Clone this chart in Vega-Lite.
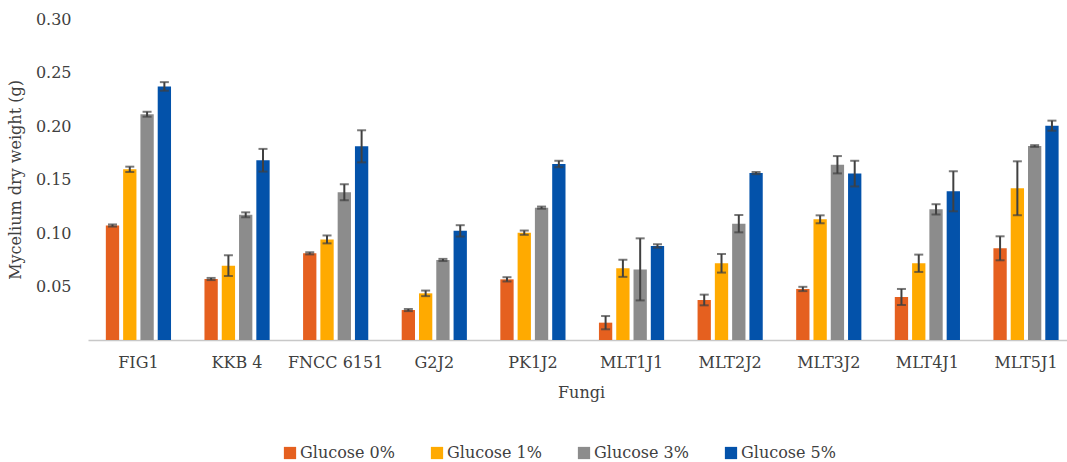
{
  "$schema": "https://vega.github.io/schema/vega-lite/v6.json",
  "width": 979,
  "height": 321,
  "autosize": {"type": "none"},
  "padding": {"left": 88, "top": 19, "right": 0, "bottom": 122},
  "background": "white",
  "config": {
    "view": {"stroke": null},
    "font": "DejaVu Serif",
    "axis": {"labelFont": "DejaVu Serif", "titleFont": "DejaVu Serif", "labelColor": "#404040", "titleColor": "#404040", "titleFontWeight": "normal", "labelFontSize": 16, "titleFontSize": 16},
    "legend": {"labelFont": "DejaVu Serif", "labelFontSize": 16, "labelColor": "#404040"}
  },
  "data": {
    "values": [
      {"f": "FIG1", "g": "Glucose 0%", "v": 0.107, "lo": 0.106, "hi": 0.108},
      {"f": "FIG1", "g": "Glucose 1%", "v": 0.1595, "lo": 0.157, "hi": 0.162},
      {"f": "FIG1", "g": "Glucose 3%", "v": 0.211, "lo": 0.2087, "hi": 0.2133},
      {"f": "FIG1", "g": "Glucose 5%", "v": 0.237, "lo": 0.233, "hi": 0.241},
      {"f": "KKB 4", "g": "Glucose 0%", "v": 0.057, "lo": 0.056, "hi": 0.058},
      {"f": "KKB 4", "g": "Glucose 1%", "v": 0.0695, "lo": 0.0598, "hi": 0.0792},
      {"f": "KKB 4", "g": "Glucose 3%", "v": 0.117, "lo": 0.1147, "hi": 0.1193},
      {"f": "KKB 4", "g": "Glucose 5%", "v": 0.168, "lo": 0.1574, "hi": 0.1786},
      {"f": "FNCC 6151", "g": "Glucose 0%", "v": 0.081, "lo": 0.08, "hi": 0.082},
      {"f": "FNCC 6151", "g": "Glucose 1%", "v": 0.094, "lo": 0.0903, "hi": 0.0977},
      {"f": "FNCC 6151", "g": "Glucose 3%", "v": 0.138, "lo": 0.1305, "hi": 0.1455},
      {"f": "FNCC 6151", "g": "Glucose 5%", "v": 0.181, "lo": 0.166, "hi": 0.196},
      {"f": "G2J2", "g": "Glucose 0%", "v": 0.028, "lo": 0.027, "hi": 0.029},
      {"f": "G2J2", "g": "Glucose 1%", "v": 0.0436, "lo": 0.041, "hi": 0.0462},
      {"f": "G2J2", "g": "Glucose 3%", "v": 0.0748, "lo": 0.0738, "hi": 0.0758},
      {"f": "G2J2", "g": "Glucose 5%", "v": 0.102, "lo": 0.0967, "hi": 0.1073},
      {"f": "PK1J2", "g": "Glucose 0%", "v": 0.0567, "lo": 0.0547, "hi": 0.0587},
      {"f": "PK1J2", "g": "Glucose 1%", "v": 0.1003, "lo": 0.0983, "hi": 0.1023},
      {"f": "PK1J2", "g": "Glucose 3%", "v": 0.1237, "lo": 0.1227, "hi": 0.1247},
      {"f": "PK1J2", "g": "Glucose 5%", "v": 0.1645, "lo": 0.1615, "hi": 0.1675},
      {"f": "MLT1J1", "g": "Glucose 0%", "v": 0.0162, "lo": 0.01, "hi": 0.0224},
      {"f": "MLT1J1", "g": "Glucose 1%", "v": 0.067, "lo": 0.059, "hi": 0.075},
      {"f": "MLT1J1", "g": "Glucose 3%", "v": 0.066, "lo": 0.037, "hi": 0.095},
      {"f": "MLT1J1", "g": "Glucose 5%", "v": 0.0879, "lo": 0.0863, "hi": 0.0895},
      {"f": "MLT2J2", "g": "Glucose 0%", "v": 0.0374, "lo": 0.0324, "hi": 0.0424},
      {"f": "MLT2J2", "g": "Glucose 1%", "v": 0.0717, "lo": 0.063, "hi": 0.0804},
      {"f": "MLT2J2", "g": "Glucose 3%", "v": 0.1087, "lo": 0.1006, "hi": 0.1168},
      {"f": "MLT2J2", "g": "Glucose 5%", "v": 0.156, "lo": 0.155, "hi": 0.157},
      {"f": "MLT3J2", "g": "Glucose 0%", "v": 0.0477, "lo": 0.0457, "hi": 0.0497},
      {"f": "MLT3J2", "g": "Glucose 1%", "v": 0.1128, "lo": 0.1091, "hi": 0.1165},
      {"f": "MLT3J2", "g": "Glucose 3%", "v": 0.1638, "lo": 0.1557, "hi": 0.1719},
      {"f": "MLT3J2", "g": "Glucose 5%", "v": 0.1555, "lo": 0.1435, "hi": 0.1675},
      {"f": "MLT4J1", "g": "Glucose 0%", "v": 0.0402, "lo": 0.0327, "hi": 0.0477},
      {"f": "MLT4J1", "g": "Glucose 1%", "v": 0.0717, "lo": 0.0636, "hi": 0.0798},
      {"f": "MLT4J1", "g": "Glucose 3%", "v": 0.1221, "lo": 0.1173, "hi": 0.1269},
      {"f": "MLT4J1", "g": "Glucose 5%", "v": 0.139, "lo": 0.1203, "hi": 0.1577},
      {"f": "MLT5J1", "g": "Glucose 0%", "v": 0.0857, "lo": 0.0745, "hi": 0.0969},
      {"f": "MLT5J1", "g": "Glucose 1%", "v": 0.1418, "lo": 0.1166, "hi": 0.167},
      {"f": "MLT5J1", "g": "Glucose 3%", "v": 0.1813, "lo": 0.1805, "hi": 0.1821},
      {"f": "MLT5J1", "g": "Glucose 5%", "v": 0.2003, "lo": 0.1956, "hi": 0.205}
    ]
  },
  "encoding": {
    "x": {
      "field": "f", "type": "nominal", "sort": null,
      "scale": {"paddingInner": 0.339, "paddingOuter": 0.133, "align": 0.68},
      "axis": {"title": "Fungi", "labelAngle": 0, "ticks": false, "domainColor": "#C8C8C8", "domainWidth": 1.5, "labelPadding": 14, "titlePadding": 14, "titleX": 493}
    },
    "xOffset": {"field": "g", "type": "nominal", "scale": {"paddingInner": 0.23}}
  },
  "layer": [
    {
      "mark": {"type": "bar"},
      "encoding": {
        "y": {
          "field": "v", "type": "quantitative",
          "scale": {"domain": [0, 0.3], "nice": false},
          "axis": {"title": "Mycelium dry weight (g)", "values": [0.05, 0.1, 0.15, 0.2, 0.25, 0.3], "format": ".2f", "grid": false, "domain": false, "ticks": false, "labelPadding": 17, "titlePadding": 12}
        },
        "color": {
          "field": "g", "type": "nominal",
          "scale": {"domain": ["Glucose 0%", "Glucose 1%", "Glucose 3%", "Glucose 5%"], "range": ["#E5601F", "#FFAA00", "#8C8C8C", "#0352AA"]},
          "legend": {"title": null, "orient": "none", "legendX": 194, "legendY": 426, "direction": "horizontal", "columns": 4, "columnPadding": 34, "symbolType": "square", "symbolSize": 150, "symbolStrokeWidth": 0, "labelOffset": 2}
        }
      }
    },
    {
      "mark": {"type": "rule", "color": "#404040", "strokeWidth": 2},
      "encoding": {"y": {"field": "lo", "type": "quantitative"}, "y2": {"field": "hi"}}
    },
    {
      "mark": {"type": "tick", "color": "#404040", "thickness": 2, "size": 9, "orient": "horizontal"},
      "encoding": {"y": {"field": "lo", "type": "quantitative"}}
    },
    {
      "mark": {"type": "tick", "color": "#404040", "thickness": 2, "size": 9, "orient": "horizontal"},
      "encoding": {"y": {"field": "hi", "type": "quantitative"}}
    }
  ]
}
